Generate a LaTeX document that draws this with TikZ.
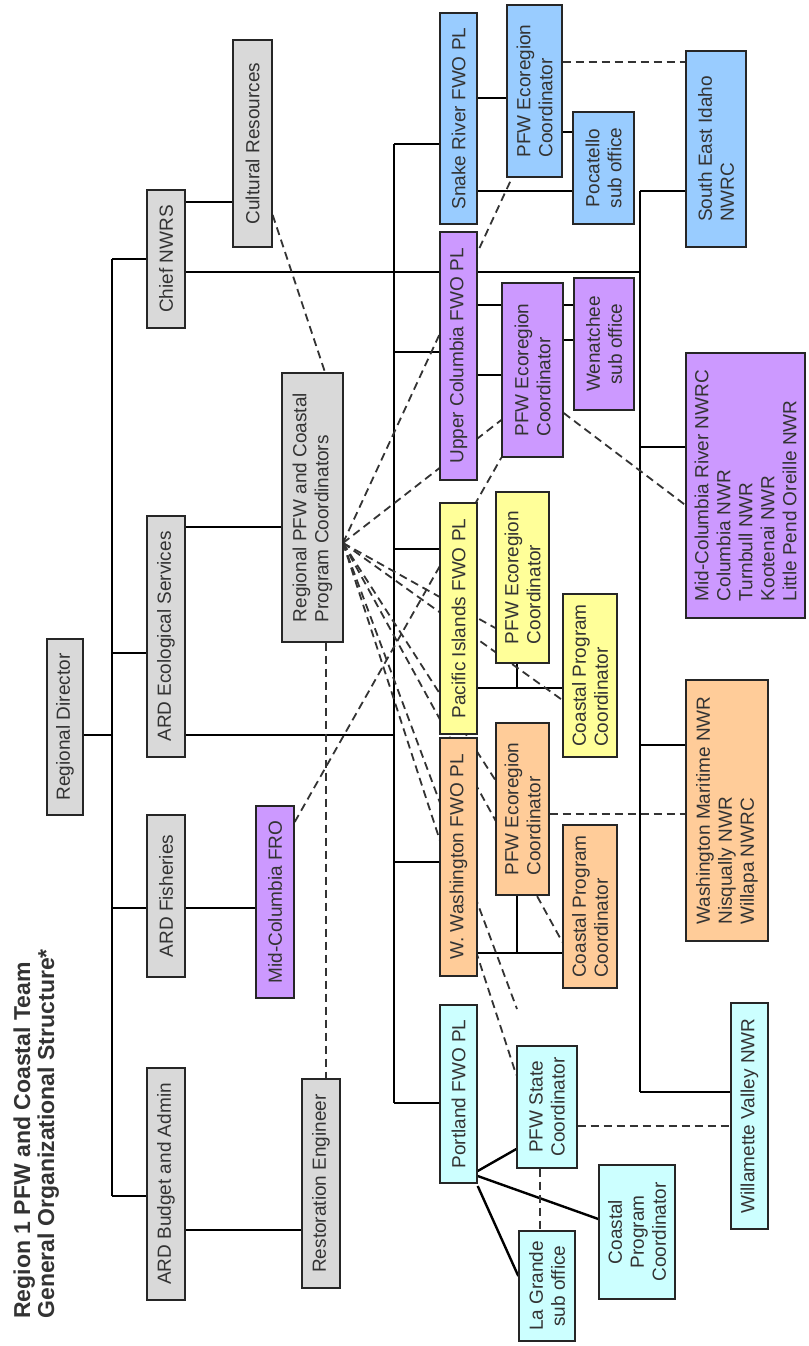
\documentclass[tikz,border=0pt]{standalone}
\usepackage{fontspec}
\setmainfont{Liberation Sans}
\usetikzlibrary{backgrounds}
\definecolor{boxgray}{RGB}{217,217,217}
\definecolor{boxblue}{RGB}{153,204,255}
\definecolor{boxpurple}{RGB}{204,153,255}
\definecolor{boxyellow}{RGB}{255,255,153}
\definecolor{boxorange}{RGB}{255,204,153}
\definecolor{boxcyan}{RGB}{204,255,255}
\tikzset{
orgbox/.style={rectangle, draw=black!85, line width=0.7pt, inner sep=1pt, rotate=90, font=\fontsize{9.5}{11}\selectfont, text=black!80, align=left},
grayboxv1/.style={orgbox, fill=boxgray},
blueboxv1/.style={orgbox, fill=boxblue},
purpleboxv1/.style={orgbox, fill=boxpurple},
yellowboxv1/.style={orgbox, fill=boxyellow},
orangeboxv1/.style={orgbox, fill=boxorange},
cyanboxv1/.style={orgbox, fill=boxcyan},
solidlink/.style={black, line width=1.2pt},
dashlink/.style={black!80, line width=0.9pt, dash pattern=on 4pt off 2.5pt},
titletext/.style={rotate=90, anchor=north west, inner sep=0pt, align=left, text=black!80, font=\fontsize{11.5}{12}\selectfont\bfseries},
}

\begin{document}
\begin{tikzpicture}[x=0.5pt,y=-0.5pt]
  \useasboundingbox (0,0) rectangle (809,1346);
  \node[titletext] at (13,1319) (title) {Region 1 PFW and Coastal Team\\General Organizational Structure*};

  % directors
  \node[grayboxv1, minimum width=88pt, minimum height=18pt] at (65,727) (regdir) {Regional Director};
  \node[grayboxv1, minimum width=116pt, minimum height=19pt] at (166,1184) (budget) {ARD Budget and Admin};
  \node[grayboxv1, minimum width=81pt, minimum height=19pt] at (166,896) (fish) {ARD Fisheries};
  \node[grayboxv1, minimum width=120.5pt, minimum height=19pt] at (166,636.5) (eco) {ARD Ecological Services};
  \node[grayboxv1, minimum width=69pt, minimum height=19pt] at (166,259) (chief) {Chief NWRS};
  \node[grayboxv1, minimum width=103.5pt, minimum height=19.5pt] at (252.5,143.5) (cultural) {Cultural Resources};
  \node[grayboxv1, minimum width=134.5pt, minimum height=30.5pt] at (312.5,507.5) (regpfw) {Regional PFW and Coastal\\Program Coordinators};
  \node[purpleboxv1, minimum width=96pt, minimum height=19pt] at (275,902) (midfro) {Mid-Columbia FRO};
  \node[grayboxv1, minimum width=104.5pt, minimum height=19pt] at (321,1183.5) (resteng) {Restoration Engineer};

  % field offices
  \node[blueboxv1, minimum width=105.5pt, minimum height=18.5pt] at (458.5,118.5) (snake) {Snake River FWO PL};
  \node[purpleboxv1, minimum width=124pt, minimum height=18.5pt] at (458.5,356) (upcol) {Upper Columbia FWO PL};
  \node[yellowboxv1, minimum width=115.5pt, minimum height=18.5pt] at (458.5,618.5) (pacific) {Pacific Islands FWO PL};
  \node[orangeboxv1, minimum width=119pt, minimum height=18.5pt] at (458.5,857) (wwash) {W. Washington FWO PL};
  \node[cyanboxv1, minimum width=89pt, minimum height=18.5pt] at (458.5,1094) (portland) {Portland FWO PL};

  % coordinators and sub offices
  \node[blueboxv1, minimum width=86pt, minimum height=27.5pt] at (534.5,91) (snakeeco) {PFW Ecoregion\\Coordinator};
  \node[blueboxv1, minimum width=56pt, minimum height=30.5pt, align=center] at (603.5,168) (pocatello) {Pocatello\\sub office};
  \node[purpleboxv1, minimum width=87pt, minimum height=30.5pt] at (532.5,370) (upcoleco) {PFW Ecoregion\\Coordinator};
  \node[purpleboxv1, minimum width=66pt, minimum height=30pt, align=center] at (604,344) (wenatchee) {Wenatchee\\sub office};
  \node[yellowboxv1, minimum width=85.5pt, minimum height=26.5pt] at (522.5,577.5) (paceco) {PFW Ecoregion\\Coordinator};
  \node[yellowboxv1, minimum width=81.5pt, minimum height=27pt] at (590,675.5) (paccoast) {Coastal Program\\Coordinator};
  \node[orangeboxv1, minimum width=86pt, minimum height=26.5pt] at (522.5,809) (wwasheco) {PFW Ecoregion\\Coordinator};
  \node[orangeboxv1, minimum width=81.5pt, minimum height=27pt] at (590,906.5) (wwashcoast) {Coastal Program\\Coordinator};
  \node[cyanboxv1, minimum width=61pt, minimum height=30pt, align=center] at (547,1107) (pfwstate) {PFW State\\Coordinator};
  \node[cyanboxv1, minimum width=55pt, minimum height=28pt, align=center] at (547,1286) (lagrande) {La Grande\\sub office};
  \node[cyanboxv1, minimum width=67pt, minimum height=38pt, align=center] at (637,1232) (portcoast) {Coastal\\Program\\Coordinator};

  % refuges
  \node[blueboxv1, minimum width=98pt, minimum height=30pt] at (716,149) (seidaho) {South East Idaho\\NWRC};
  \node[purpleboxv1, minimum width=132.5pt, minimum height=59.5pt] at (745.5,485.5) (midcolnwrc) {Mid-Columbia River NWRC\\Columbia NWR\\Turnbull NWR\\Kootenai NWR\\Little Pend Oreille NWR};
  \node[orangeboxv1, minimum width=130.5pt, minimum height=41pt] at (727,810.5) (wamaritime) {Washington Maritime NWR\\Nisqually NWR\\Willapa NWRC};
  \node[cyanboxv1, minimum width=113pt, minimum height=18.5pt] at (749.5,1116) (willamette) {Willamette Valley NWR};

  \begin{pgfonlayer}{background}
  \fill[white] (0,0) rectangle (809,1346);
  \coordinate (trunktop) at (112,259);
  \coordinate (trunkbot) at (112,1196);
  \coordinate (fieldtop) at (394,144);
  \coordinate (fieldbot) at (394,1103);
  \coordinate (refugetop) at (640,191);
  \coordinate (refugebot) at (640,1092);
  \coordinate (hub) at (343,543);
  \coordinate (stubend) at (517,1009);

  % solid reporting lines
  \draw[solidlink] (trunktop) -- (trunkbot);
  \draw[solidlink] (regdir.south |- 0,735) -- (trunktop |- 0,735);
  \draw[solidlink] (chief.north) -- (trunktop);
  \draw[solidlink] (eco.north |- 0,653) -- (trunktop |- 0,653);
  \draw[solidlink] (fish.north |- 0,908) -- (trunktop |- 0,908);
  \draw[solidlink] (budget.north |- 0,1196) -- (trunkbot);
  \draw[solidlink] (chief.south |- 0,202) -- (cultural.north |- 0,202);
  \draw[solidlink] (chief.south |- 0,272) -- (refugetop |- 0,272);
  \draw[solidlink] (eco.south |- 0,527) -- (regpfw.north |- 0,527);
  \draw[solidlink] (eco.south |- 0,735) -- (fieldtop |- 0,735);
  \draw[solidlink] (fish.south |- 0,908) -- (midfro.north |- 0,908);
  \draw[solidlink] (budget.south |- 0,1230) -- (resteng.north |- 0,1230);

  \draw[solidlink] (fieldtop) -- (fieldbot);
  \draw[solidlink] (snake.north |- 0,144) -- (fieldtop);
  \draw[solidlink] (upcol.north |- 0,352) -- (fieldtop |- 0,352);
  \draw[solidlink] (pacific.north |- 0,549) -- (fieldtop |- 0,549);
  \draw[solidlink] (wwash.north |- 0,862) -- (fieldtop |- 0,862);
  \draw[solidlink] (portland.north |- 0,1103) -- (fieldbot);

  \draw[solidlink] (snake.south |- 0,98) -- (snakeeco.north |- 0,98);
  \draw[solidlink] (snake.south |- 0,191) -- (pocatello.north |- 0,191);
  \draw[solidlink] (snakeeco.south |- 0,132) -- (pocatello.north |- 0,132);
  \draw[solidlink] (upcol.south |- 0,305) -- (wenatchee.north |- 0,305);
  \draw[solidlink] (upcol.south |- 0,375) -- (upcoleco.north |- 0,375);
  \draw[solidlink] (upcoleco.south |- 0,340) -- (wenatchee.north |- 0,340);
  \draw[solidlink] (pacific.south |- 0,688) -- (paccoast.north |- 0,688);
  \draw[solidlink] (517,0 |- paceco.west) -- (517,688);
  \draw[solidlink] (wwash.south |- 0,953) -- (wwashcoast.north |- 0,953);
  \draw[solidlink] (517,0 |- wwasheco.west) -- (517,953);
  \draw[solidlink] (portland.south |- 0,1171) -- (pfwstate.north |- 0,1149);
  \draw[solidlink] (portland.south |- 0,1176) -- (portcoast.north |- 0,1219);
  \draw[solidlink] (portland.south |- 0,1186) -- (lagrande.north |- 0,1276);

  \draw[solidlink] (refugetop) -- (refugebot);
  \draw[solidlink] (refugetop) -- (seidaho.north |- 0,191);
  \draw[solidlink] (refugetop |- 0,447) -- (midcolnwrc.north |- 0,447);
  \draw[solidlink] (refugetop |- 0,745) -- (wamaritime.north |- 0,745);
  \draw[solidlink] (refugebot) -- (willamette.north |- 0,1092);

  % dashed coordination lines
  \draw[dashlink] (cultural.south |- 0,215) -- (325,0 |- regpfw.east);
  \draw[dashlink] (326,0 |- regpfw.west) -- (326,0 |- resteng.east);
  \draw[dashlink] (hub) -- (512,0 |- snakeeco.west);
  \draw[dashlink] (hub) -- (upcoleco.north |- 0,420);
  \draw[dashlink] (hub) -- (paceco.north |- 0,628);
  \draw[dashlink] (hub) -- (paccoast.north |- 0,700);
  \draw[dashlink] (hub) -- (wwasheco.north |- 0,780);
  \draw[dashlink] (hub) -- (wwashcoast.north |- 0,942);
  \draw[dashlink] (hub) -- (pfwstate.north |- 0,1075);
  \draw[dashlink] (hub) -- (stubend);
  \draw[dashlink] (midfro.south |- 0,822) -- (upcoleco.north west);
  \draw[dashlink] (snakeeco.south |- 0,62) -- (seidaho.north |- 0,62);
  \draw[dashlink] (upcoleco.south |- 0,413) -- (midcolnwrc.north |- 0,505);
  \draw[dashlink] (wwasheco.south |- 0,814) -- (wamaritime.north |- 0,814);
  \draw[dashlink] (pfwstate.south |- 0,1126) -- (willamette.north |- 0,1126);
  \draw[dashlink] (540,0 |- pfwstate.west) -- (540,0 |- lagrande.east);
  \end{pgfonlayer}
\end{tikzpicture}
\end{document}
